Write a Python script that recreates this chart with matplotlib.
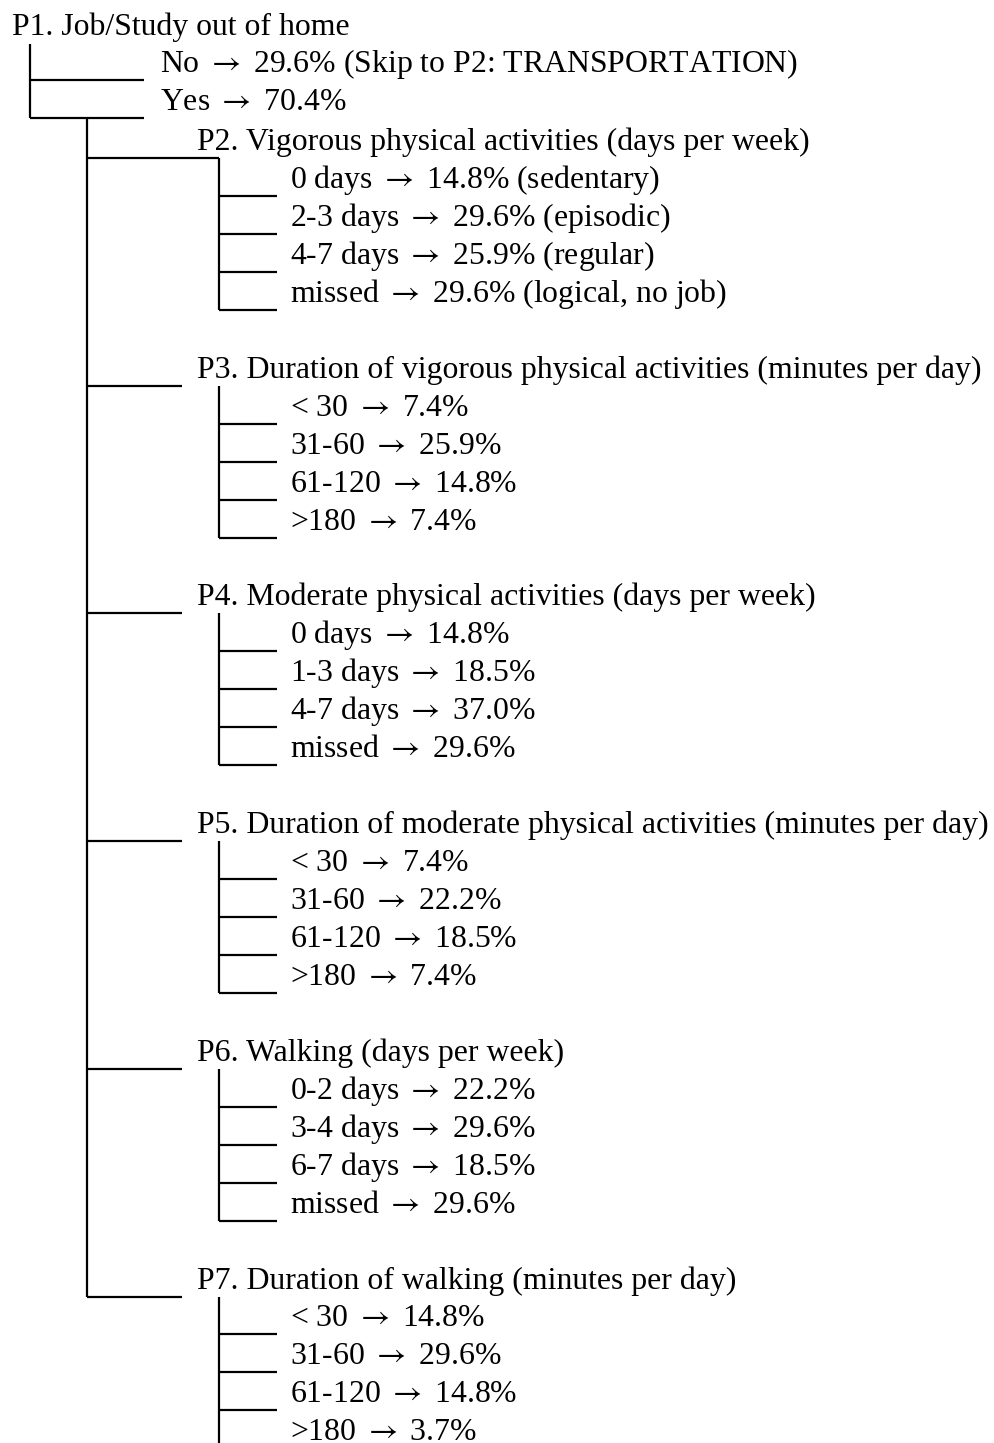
import matplotlib.pyplot as plt

# top question
p1_title = "P1. Job/Study out of home"
p1_answers = ["No", "Yes"]
p1_percents = [29.6, 70.4]
p1_notes = [" (Skip to P2: TRANSPORTATION)", ""]

# follow-up questions (asked when Yes)
questions = [
    "P2. Vigorous physical activities (days per week)",
    "P3. Duration of vigorous physical activities (minutes per day)",
    "P4. Moderate physical activities (days per week)",
    "P5. Duration of moderate physical activities (minutes per day)",
    "P6. Walking (days per week)",
    "P7. Duration of walking (minutes per day)",
]
options = [
    ["0 days", "2-3 days", "4-7 days", "missed"],
    ["< 30", "31-60", "61-120", ">180"],
    ["0 days", "1-3 days", "4-7 days", "missed"],
    ["< 30", "31-60", "61-120", ">180"],
    ["0-2 days", "3-4 days", "6-7 days", "missed"],
    ["< 30", "31-60", "61-120", ">180"],
]
percents = [
    [14.8, 29.6, 25.9, 29.6],
    [7.4, 25.9, 14.8, 7.4],
    [14.8, 18.5, 37.0, 29.6],
    [7.4, 22.2, 18.5, 7.4],
    [22.2, 29.6, 18.5, 29.6],
    [14.8, 29.6, 14.8, 3.7],
]
p2_notes = [" (sedentary)", " (episodic)", " (regular)", " (logical, no job)"]

plt.rcParams["mathtext.fontset"] = "stix"

W, H = 995, 1443
fig = plt.figure(figsize=(W / 100, H / 100), dpi=100)
ax = fig.add_axes([0, 0, 1, 1])
ax.set_xlim(0, W)
ax.set_ylim(H, 0)
ax.axis("off")

fs = 22.9
font = ["Liberation Serif", "DejaVu Serif"]
lw = 1.6
row = 37.95
base_off = 8  # text baseline sits above its underline
arrow = r"$\rightarrow$"


def line(xs, ys):
    ax.plot(xs, ys, color="black", lw=lw, solid_capstyle="butt")


def label(x, y, s):
    ax.text(x, y - base_off, s, fontsize=fs, family=font, va="baseline", ha="left")


# level 1
ax.text(12, 35, p1_title, fontsize=fs, family=font, va="baseline", ha="left")
x1, x1_end = 30, 144
top_lines = [80, 118]
line([x1, x1], [44, top_lines[-1]])
for y, a, p, n in zip(top_lines, p1_answers, p1_percents, p1_notes):
    line([x1, x1_end], [y, y])
    label(160, y, f"{a} {arrow} {p:.1f}%{n}")

# level 2
x2, x2_end = 87, 182
x3, x3_end = 219, 277
group_start = 158
group_step = 6 * row
ys_groups = [group_start + i * group_step for i in range(len(questions))]
line([x2, x2], [top_lines[-1], ys_groups[-1]])

for i, (q, opts, pcts) in enumerate(zip(questions, options, percents)):
    gy = ys_groups[i]
    # first branch runs right into its sub-trunk
    line([x2, x3 if i == 0 else x2_end], [gy, gy])
    label(197, gy, q)
    last = i == len(questions) - 1
    sub_ys = [gy + (j + 1) * row for j in range(len(opts))]
    line([x3, x3], [gy, H if last else sub_ys[-1]])
    for j, (o, p) in enumerate(zip(opts, pcts)):
        sy = sub_ys[j]
        if not (last and j == len(opts) - 1):
            line([x3, x3_end], [sy, sy])
        note = p2_notes[j] if i == 0 else ""
        label(290, sy, f"{o} {arrow} {p:.1f}%{note}")

fig.savefig("out.png", dpi=100)
